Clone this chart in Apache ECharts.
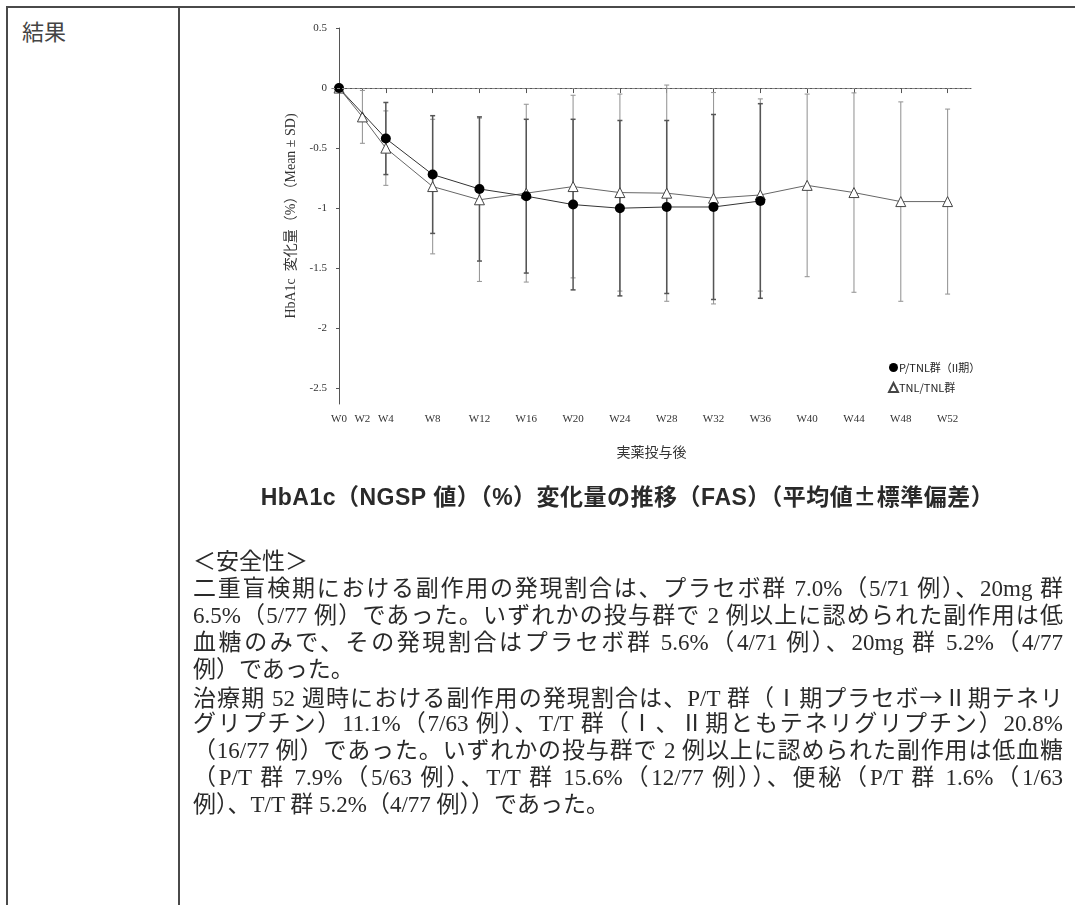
<!DOCTYPE html>
<html>
<head>
<meta charset="utf-8">
<title>HbA1c 変化量の推移</title>
<script src="https://cdn.jsdelivr.net/npm/echarts@6/dist/echarts.min.js"></script>
<style>
    body { margin: 0; background: #fff; }
    #page { position: relative; width: 1075px; height: 905px; overflow: hidden; color: #333; }
    .rule { position: absolute; background: #4a4a4a; }
    #chart { position: absolute; left: 0; top: 0; width: 1075px; height: 905px; }
    .head { position: absolute; left: 22px; top: 16px; font: 22px/28px "Noto Sans CJK JP", sans-serif; color: #444; }
    .caption { position: absolute; left: 180px; width: 895px; top: 481px; text-align: center; letter-spacing: 0.5px;
        font: bold 23px/28px "Liberation Sans", "Noto Sans CJK JP", sans-serif; color: #2a2a2a; }
    .ln { position: absolute; left: 193px; width: 870px; height: 27px; line-height: 27px; white-space: nowrap;
        font-family: "Liberation Serif", "Noto Sans CJK JP", serif; font-size: 23px; color: #2a2a2a; }
    .ln.full { text-align: justify; text-align-last: justify; }
    .cjk { font-family: "Noto Sans CJK JP", sans-serif; }
</style>
</head>
<body>
<div id="page">
    <div class="rule" style="left:7px; top:6px; width:1068px; height:2px;"></div>
    <div class="rule" style="left:6px; top:6px; width:2px; height:899px;"></div>
    <div class="rule" style="left:178px; top:6px; width:2px; height:899px;"></div>
    <div class="head">結果</div>
    <div id="chart"></div>
    <div class="caption">HbA1c（NGSP 値）（%）変化量の推移（FAS）（平均値<span class="cjk">±</span>標準偏差）</div>
    <div id="text"></div>
</div>
<script>
    // 週（横軸の目盛）
    var tickWeeks = [0, 2, 4, 8, 12, 16, 20, 24, 28, 32, 36, 40, 44, 48, 52];
    var yTicks = [-2.5, -2, -1.5, -1, -0.5, 0, 0.5];

    // P/TNL群（II期）
    var weeksA = [0, 4, 8, 12, 16, 20, 24, 28, 32, 36];
    var meanA = [0, -0.42, -0.72, -0.84, -0.90, -0.97, -1.00, -0.99, -0.99, -0.94];
    var sdA = [0, 0.30, 0.49, 0.60, 0.64, 0.71, 0.73, 0.72, 0.77, 0.81];

    // TNL/TNL群
    var weeksB = [0, 2, 4, 8, 12, 16, 20, 24, 28, 32, 36, 40, 44, 48, 52];
    var meanB = [0, -0.24, -0.50, -0.82, -0.93, -0.875, -0.82, -0.87, -0.875, -0.917, -0.89, -0.81, -0.87, -0.945, -0.945];
    var sdB = [0, 0.22, 0.31, 0.56, 0.68, 0.74, 0.76, 0.82, 0.90, 0.88, 0.80, 0.76, 0.83, 0.83, 0.77];

    var nameA = 'P/TNL群（II期）';
    var nameB = 'TNL/TNL群';

    var textLines = [
        ['＜安全性＞', false],
        ['二重盲検期における副作用の発現割合は、プラセボ群 7.0%（5/71 例）、20mg 群', true],
        ['6.5%（5/77 例）であった。いずれかの投与群で 2 例以上に認められた副作用は低', true],
        ['血糖のみで、その発現割合はプラセボ群 5.6%（4/71 例）、20mg 群 5.2%（4/77', true],
        ['例）であった。', false],
        ['治療期 52 週時における副作用の発現割合は、P/T 群（Ⅰ期プラセボ→Ⅱ期テネリ', true],
        ['グリプチン）11.1%（7/63 例）、T/T 群（Ⅰ、Ⅱ期ともテネリグリプチン）20.8%', true],
        ['（16/77 例）であった。いずれかの投与群で 2 例以上に認められた副作用は低血糖', true],
        ['（P/T 群 7.9%（5/63 例）、T/T 群 15.6%（12/77 例））、便秘（P/T 群 1.6%（1/63', true],
        ['例）、T/T 群 5.2%（4/77 例））であった。', false]
    ];

    var box = document.getElementById('text');
    textLines.forEach(function (t, i) {
        var d = document.createElement('div');
        d.className = t[1] ? 'ln full' : 'ln';
        d.style.top = (547.5 + i * 27.1) + 'px';
        // 矢印だけ全角のフォントで
        var parts = t[0].split('→');
        parts.forEach(function (p, k) {
            if (k > 0) {
                var s = document.createElement('span');
                s.className = 'cjk';
                s.textContent = '→';
                d.appendChild(s);
            }
            d.appendChild(document.createTextNode(p));
        });
        box.appendChild(d);
    });

    function errData(weeks, mean, sd) {
        var out = [];
        for (var i = 0; i < weeks.length; i++) {
            if (sd[i] > 0) out.push([weeks[i], mean[i] - sd[i], mean[i] + sd[i]]);
        }
        return out;
    }

    function errRenderer(color, width) {
        return function (params, api) {
            var x = api.value(0);
            var lo = api.coord([x, api.value(1)]);
            var hi = api.coord([x, api.value(2)]);
            var cap = 2.5;
            var st = { stroke: color, lineWidth: width };
            return {
                type: 'group',
                children: [
                    { type: 'line', shape: { x1: hi[0], y1: hi[1], x2: lo[0], y2: lo[1] }, style: st },
                    { type: 'line', shape: { x1: hi[0] - cap, y1: hi[1], x2: hi[0] + cap, y2: hi[1] }, style: st },
                    { type: 'line', shape: { x1: lo[0] - cap, y1: lo[1], x2: lo[0] + cap, y2: lo[1] }, style: st }
                ]
            };
        };
    }

    function pairs(weeks, vals) {
        return weeks.map(function (w, i) { return [w, vals[i]]; });
    }

    var serif = '"Liberation Serif", "Noto Sans CJK JP", serif';
    var myChart = echarts.init(document.getElementById('chart'), null, { renderer: 'canvas' });
    var option = {
        animation: false,
        grid: { left: 332, top: 28, right: 104, bottom: 501 },
        legend: {
            orient: 'vertical',
            left: 888,
            top: 362,
            itemWidth: 9,
            itemHeight: 9,
            itemGap: 9,
            padding: 0,
            textStyle: { fontSize: 11, color: '#222', fontFamily: '"Noto Sans CJK JP", sans-serif', padding: [0, 0, 0, -4] },
            data: [
                { name: nameA, icon: 'circle' },
                { name: nameB, icon: 'triangle' }
            ]
        },
        xAxis: {
            type: 'value',
            min: -0.6,
            max: 54,
            name: '実薬投与後',
            nameLocation: 'middle',
            nameGap: 41,
            nameTextStyle: { fontSize: 14, color: '#333', fontFamily: '"Noto Sans CJK JP", sans-serif' },
            splitLine: { show: false },
            axisLine: { lineStyle: { color: '#555', width: 1 } },
            axisTick: { customValues: tickWeeks, length: 5, lineStyle: { color: '#555' } },
            axisLabel: {
                customValues: tickWeeks,
                formatter: function (v) { return 'W' + v; },
                margin: 10,
                fontSize: 11,
                color: '#333',
                fontFamily: serif
            }
        },
        yAxis: {
            type: 'value',
            min: -2.63,
            max: 0.5,
            name: 'HbA1c  変化量（%）（Mean ± SD)',
            nameLocation: 'middle',
            nameRotate: 90,
            nameGap: 33,
            nameTextStyle: { fontSize: 14, color: '#333', fontFamily: serif },
            splitLine: { show: false },
            axisLine: { show: true, lineStyle: { color: '#555', width: 1 } },
            axisTick: { show: true, customValues: yTicks, length: 3, lineStyle: { color: '#555' } },
            axisLabel: {
                customValues: yTicks,
                formatter: function (v) { return String(v); },
                margin: 5,
                fontSize: 11,
                color: '#333',
                fontFamily: serif
            }
        },
        series: [
            {
                type: 'custom',
                name: 'errB',
                renderItem: errRenderer('#999', 1.1),
                encode: { x: 0, y: [1, 2] },
                data: errData(weeksB, meanB, sdB),
                z: 1,
                silent: true
            },
            {
                type: 'custom',
                name: 'errA',
                renderItem: errRenderer('#555', 1.5),
                encode: { x: 0, y: [1, 2] },
                data: errData(weeksA, meanA, sdA),
                z: 1,
                silent: true
            },
            {
                type: 'line',
                name: nameB,
                data: pairs(weeksB, meanB),
                symbol: 'triangle',
                symbolSize: 10,
                lineStyle: { color: '#666', width: 1 },
                itemStyle: { color: '#fff', borderColor: '#444', borderWidth: 1 },
                z: 3,
                markLine: {
                    silent: true,
                    symbol: ['none', 'none'],
                    label: { show: false },
                    lineStyle: { color: '#888', type: [3, 2], width: 1 },
                    data: [{ yAxis: 0 }]
                }
            },
            {
                type: 'line',
                name: nameA,
                data: pairs(weeksA, meanA),
                symbol: 'circle',
                symbolSize: 10,
                lineStyle: { color: '#333', width: 1 },
                itemStyle: { color: '#000' },
                z: 4
            }
        ]
    };
    myChart.setOption(option);
</script>
</body>
</html>
